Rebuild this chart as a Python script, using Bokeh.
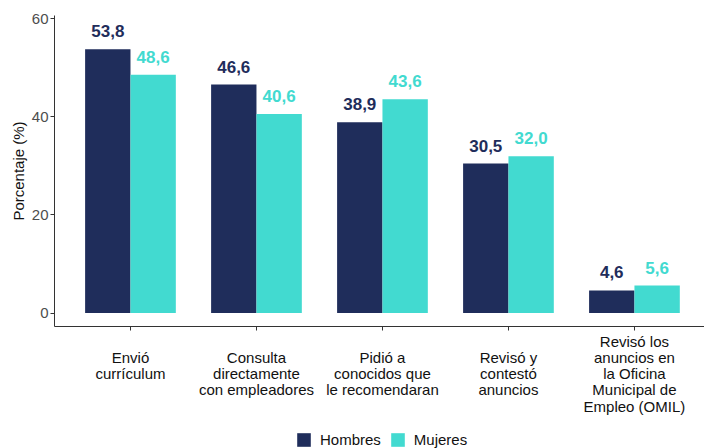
from bokeh.plotting import figure
from bokeh.layouts import column
from bokeh.models import (ColumnDataSource, LabelSet, Legend, LegendItem,
                          FixedTicker, Range1d)
from bokeh.core.properties import value
from bokeh.transform import dodge
from bokeh.embed import file_html
from bokeh.resources import INLINE

# ---- data ----
categories = [
    "Envió\ncurrículum",
    "Consulta\ndirectamente\ncon empleadores",
    "Pidió a\nconocidos que\nle recomendaran",
    "Revisó y\ncontestó\nanuncios",
    "Revisó los\nanuncios en\nla Oficina\nMunicipal de\nEmpleo (OMIL)",
]
hombres = [53.8, 46.6, 38.9, 30.5, 4.6]
mujeres = [48.6, 40.6, 43.6, 32.0, 5.6]
series_names = ["Hombres", "Mujeres"]
y_ticks = [0, 20, 40, 60]
y_axis_title = "Porcentaje (%)"

# ---- styles ----
NAVY = "#1F2D5B"
TURQ = "#42DAD0"
FONT = "Liberation Sans"
BAR_W = 0.36
LEG_H = 31

pos = list(range(1, len(categories) + 1))

def fmt(v):
    return f"{v:.1f}".replace(".", ",")

# roughly centre the shorter multi-line labels vertically
max_lines = max(c.count("\n") + 1 for c in categories)
def centred(c):
    n = c.count("\n") + 1
    return "\n" * ((max_lines - n) // 2) + c

src = ColumnDataSource(dict(
    x=pos,
    hombres=hombres,
    mujeres=mujeres,
    h_txt=[fmt(v) for v in hombres],
    m_txt=[fmt(v) for v in mujeres],
))

p = figure(width=704, height=448 - LEG_H,
           x_range=Range1d(0.397, 5.556), y_range=Range1d(-2.75, 60.7),
           toolbar_location=None, output_backend="svg",
           min_border_left=54, min_border_right=0, min_border_top=15,
           min_border_bottom=90)
p.outline_line_color = None
p.xgrid.visible = False
p.ygrid.visible = False
p.background_fill_color = "white"
p.border_fill_color = "white"

p.vbar(x=dodge("x", -BAR_W / 2, range=p.x_range), top="hombres", bottom=0,
       width=BAR_W, source=src, fill_color=NAVY, line_color=None)
p.vbar(x=dodge("x", BAR_W / 2, range=p.x_range), top="mujeres", bottom=0,
       width=BAR_W, source=src, fill_color=TURQ, line_color=None)

# value labels
for col, txt, color, dx in [("hombres", "h_txt", NAVY, -BAR_W / 2),
                            ("mujeres", "m_txt", TURQ, BAR_W / 2)]:
    ls = LabelSet(x=dodge("x", dx, range=p.x_range), y=col, text=txt, source=src,
                  text_align="center", text_baseline="alphabetic", y_offset=12,
                  text_font=value(FONT), text_font_size="17px",
                  text_font_style="bold", text_color=color)
    p.add_layout(ls)

# axes
xa = p.xaxis[0]
xa.ticker = FixedTicker(ticks=pos)
xa.major_label_overrides = {i: centred(c) for i, c in zip(pos, categories)}
xa.major_label_text_font = FONT
xa.major_label_text_font_size = "15px"
xa.major_label_text_line_height = 0.96
xa.major_label_text_color = "#111111"
xa.major_label_standoff = 2
xa.major_tick_out = 4
xa.major_tick_in = 0
xa.minor_tick_line_color = None
xa.axis_line_color = "#333333"
xa.major_tick_line_color = "#333333"

ya = p.yaxis[0]
ya.ticker = FixedTicker(ticks=y_ticks)
ya.major_tick_out = 4
ya.major_tick_in = 0
ya.minor_tick_line_color = None
ya.axis_line_color = "#333333"
ya.major_tick_line_color = "#333333"
ya.major_label_standoff = 2
ya.major_label_text_font = FONT
ya.major_label_text_font_size = "15px"
ya.major_label_text_color = "#4D4D4D"
ya.axis_label = y_axis_title
ya.axis_label_text_font = FONT
ya.axis_label_text_font_size = "15px"
ya.axis_label_text_font_style = "normal"
ya.axis_label_text_color = "#111111"
ya.axis_label_standoff = 2

# ---- legend strip (separate figure, same data, bars kept out of view) ----
pl = figure(width=704, height=LEG_H, x_range=p.x_range, y_range=Range1d(100, 101),
            toolbar_location=None, output_backend="svg",
            x_axis_type=None, y_axis_type=None,
            min_border_left=0, min_border_right=0, min_border_top=0,
            min_border_bottom=0)
pl.outline_line_color = None
pl.xgrid.visible = False
pl.ygrid.visible = False
lh = pl.vbar(x=dodge("x", -BAR_W / 2, range=p.x_range), top="hombres", bottom=0,
             width=BAR_W, source=src, fill_color=NAVY, line_color=None)
lm = pl.vbar(x=dodge("x", BAR_W / 2, range=p.x_range), top="mujeres", bottom=0,
             width=BAR_W, source=src, fill_color=TURQ, line_color=None)

legend = Legend(items=[LegendItem(label=series_names[0], renderers=[lh]),
                       LegendItem(label=series_names[1], renderers=[lm])],
                location=(241, 0), orientation="horizontal",
                glyph_width=17, glyph_height=17, label_height=17,
                label_standoff=8, spacing=8, padding=0, margin=0,
                border_line_color=None, background_fill_alpha=0,
                label_text_font=FONT, label_text_font_size="15px",
                label_text_color="#111111")
pl.add_layout(legend)

layout = column(p, pl, spacing=0)
open("out.html", "w").write(file_html(layout, INLINE))
